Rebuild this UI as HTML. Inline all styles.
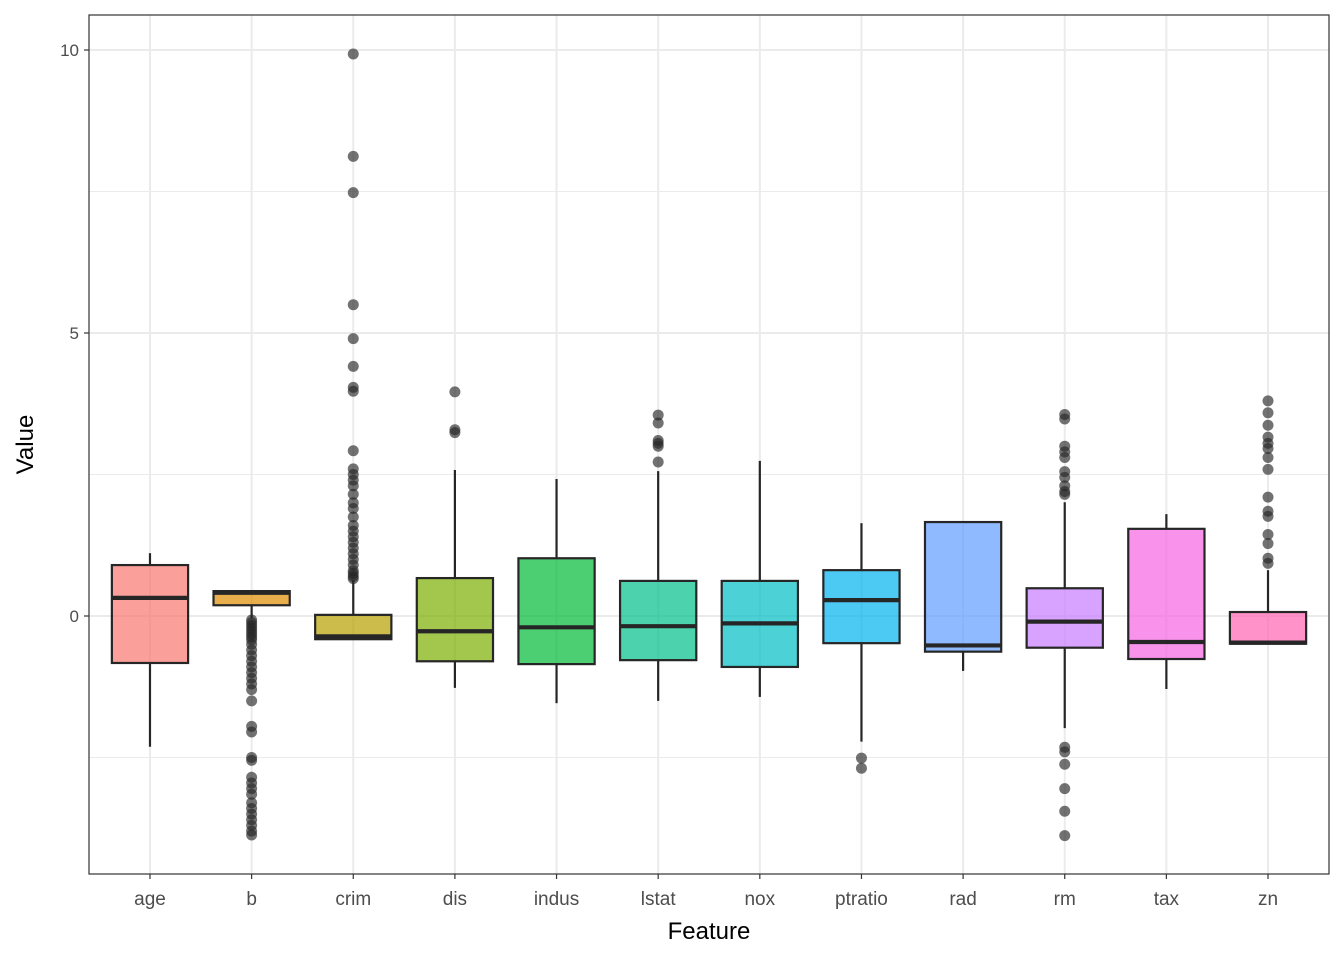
<!DOCTYPE html>
<html><head><meta charset="utf-8"><style>
body{margin:0;background:#fff;font-family:"Liberation Sans",sans-serif}
</style></head><body>
<svg id="chart" width="1344" height="960" xmlns="http://www.w3.org/2000/svg" font-family="Liberation Sans, sans-serif"></svg>
<script>
const categories=["age","b","crim","dis","indus","lstat","nox","ptratio","rad","rm","tax","zn"];
const colors=["#F8766D","#DE8C00","#B79F00","#7CAE00","#00BA38","#00C08B","#00BFC4","#00B4F0","#619CFF","#C77CFF","#F564E3","#FF64B0"];
const q1=[-0.83,0.19,-0.41,-0.80,-0.85,-0.78,-0.90,-0.48,-0.63,-0.56,-0.76,-0.49];
const medians=[0.32,0.41,-0.36,-0.27,-0.20,-0.18,-0.13,0.28,-0.52,-0.10,-0.46,-0.47];
const q3=[0.90,0.44,0.02,0.67,1.02,0.62,0.62,0.81,1.66,0.49,1.54,0.07];
const whiskerLow=[-2.31,-0.04,-0.41,-1.27,-1.54,-1.50,-1.43,-2.22,-0.97,-1.98,-1.29,-0.49];
const whiskerHigh=[1.11,0.44,0.64,2.58,2.42,2.56,2.74,1.64,1.66,2.01,1.80,0.81];
const outliers=[
[],
[-0.07,-0.12,-0.17,-0.22,-0.27,-0.32,-0.37,-0.42,-0.5,-0.6,-0.7,-0.8,-0.9,-1.0,-1.1,-1.2,-1.3,-1.5,-1.95,-2.05,-2.5,-2.55,-2.85,-2.95,-3.05,-3.15,-3.3,-3.4,-3.5,-3.6,-3.7,-3.8,-3.87],
[9.93,8.12,7.48,5.5,4.9,4.41,4.04,3.97,2.92,2.6,2.5,2.4,2.3,2.15,2.0,1.9,1.75,1.6,1.5,1.4,1.3,1.2,1.1,1.0,0.9,0.8,0.75,0.7,0.66],
[3.96,3.29,3.24],
[],
[3.55,3.41,3.10,3.05,3.0,2.72],
[],
[-2.51,-2.69],
[],
[3.56,3.48,3.0,2.9,2.8,2.55,2.45,2.3,2.2,2.15,-2.32,-2.40,-2.62,-3.05,-3.45,-3.88],
[],
[3.80,3.59,3.37,3.16,3.05,2.96,2.80,2.59,2.10,1.85,1.76,1.44,1.28,1.02,0.93]
];
const yMajor=[0,5,10];
const yMinor=[-2.5,2.5,7.5];
const NS="http://www.w3.org/2000/svg";
const svg=document.getElementById('chart');
const L=89,R=1329,T=15,B=874;
const y=v=>616-v*56.6;
const step=(R-L)/(categories.length-1+1.2);
const x=i=>L+step*(i+0.6);
function mk(tag,attrs,parent){const e=document.createElementNS(NS,tag);for(const k in attrs)e.setAttribute(k,attrs[k]);(parent||svg).appendChild(e);return e;}
const grid=mk('g',{});


yMinor.forEach(v=>mk('line',{x1:L,x2:R,y1:y(v),y2:y(v),stroke:'#ebebeb','stroke-width':1},grid));
yMajor.forEach(v=>mk('line',{x1:L,x2:R,y1:y(v),y2:y(v),stroke:'#ebebeb','stroke-width':2},grid));
categories.forEach((c,i)=>mk('line',{x1:x(i),x2:x(i),y1:T,y2:B,stroke:'#ebebeb','stroke-width':2},grid));
const bw=step*0.75;
categories.forEach((c,i)=>{
  const g=mk('g',{});
  
  
  mk('line',{x1:x(i),x2:x(i),y1:y(whiskerHigh[i]),y2:y(q3[i]),stroke:'#262626','stroke-width':2.2},g);
  mk('line',{x1:x(i),x2:x(i),y1:y(q1[i]),y2:y(whiskerLow[i]),stroke:'#262626','stroke-width':2.2},g);
  mk('rect',{x:x(i)-bw/2,y:y(q3[i]),width:bw,height:y(q1[i])-y(q3[i]),fill:colors[i],'fill-opacity':0.7,stroke:'#262626','stroke-width':2.2},g);
  mk('line',{x1:x(i)-bw/2,x2:x(i)+bw/2,y1:y(medians[i]),y2:y(medians[i]),stroke:'#262626','stroke-width':4.2},g);
  outliers[i].forEach(v=>{
    const p=mk('circle',{cx:x(i),cy:y(v),r:5.5,fill:'#262626','fill-opacity':0.65},g);
    
    
  });
});
const frame=mk('rect',{x:L,y:T,width:R-L,height:B-T,fill:'none',stroke:'#333','stroke-width':1.2});


yMajor.forEach(v=>{
  mk('line',{x1:L-5,x2:L,y1:y(v),y2:y(v),stroke:'#333','stroke-width':1.2});
  const t=mk('text',{x:L-10,y:y(v)+6,'text-anchor':'end','font-size':17,fill:'#4d4d4d'});
  t.textContent=v;
  
  
});
categories.forEach((c,i)=>{
  mk('line',{x1:x(i),x2:x(i),y1:B,y2:B+5,stroke:'#333','stroke-width':1.2});
  const t=mk('text',{x:x(i),y:905,'text-anchor':'middle','font-size':19,fill:'#4d4d4d'});
  t.textContent=c;
  
  
});
const xt=mk('text',{x:(L+R)/2,y:939,'text-anchor':'middle','font-size':24,fill:'#000'});
xt.textContent='Feature';


const yt=mk('text',{x:33,y:(T+B)/2,'text-anchor':'middle','font-size':24,fill:'#000',transform:'rotate(-90 33 '+((T+B)/2)+')'});
yt.textContent='Value';


</script>
</body></html>
